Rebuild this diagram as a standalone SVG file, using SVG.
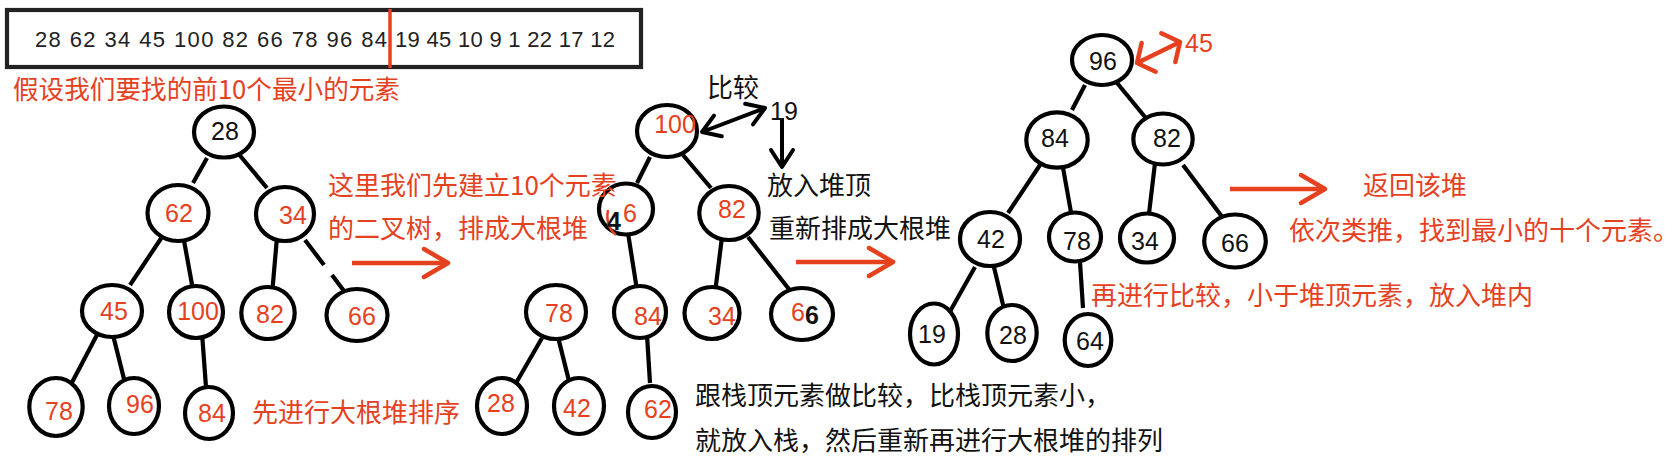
<svg xmlns="http://www.w3.org/2000/svg" width="1676" height="470" viewBox="0 0 1676 470">
<style>
.n{fill:#fff;stroke:#000;stroke-width:4.2}
.t{font-family:"Liberation Sans",Arial,Helvetica,sans-serif;font-size:25px;text-anchor:middle}
.r{fill:#E6411E}
.k{fill:#111}
.cj{font-family:"Noto Sans CJK SC","Noto Sans",sans-serif;font-size:26px}
.e{stroke:#000;stroke-width:4.2;fill:none}
.ra{stroke:#E6411E;stroke-width:4.5;fill:none}
</style>
<defs>
<marker id="hr" markerUnits="userSpaceOnUse" viewBox="-32 -20 36 40" refX="0" refY="0" markerWidth="36" markerHeight="40" orient="auto-start-reverse" overflow="visible">
<path d="M-24,-14 L0,0 L-24,14" fill="none" stroke="#E6411E" stroke-width="4.5" stroke-linecap="round" stroke-linejoin="round"/>
</marker>
<marker id="hrs" markerUnits="userSpaceOnUse" viewBox="-20 -22 24 44" refX="0" refY="0" markerWidth="24" markerHeight="44" orient="auto-start-reverse" overflow="visible">
<path d="M-13,-16 L0,0 L-13,16" fill="none" stroke="#E6411E" stroke-width="4.5" stroke-linecap="round" stroke-linejoin="round"/>
</marker>
<marker id="hk" markerUnits="userSpaceOnUse" viewBox="-24 -16 28 32" refX="0" refY="0" markerWidth="28" markerHeight="32" orient="auto-start-reverse" overflow="visible">
<path d="M-17,-11 L0,0 L-17,11" fill="none" stroke="#000" stroke-width="4" stroke-linecap="round" stroke-linejoin="round"/>
</marker>
</defs>
<rect width="1676" height="470" fill="#fff"/>

<g id="array">
<rect x="7" y="10" width="634" height="57" fill="none" stroke="#222" stroke-width="4.2"/>
<line x1="390" y1="9" x2="390" y2="68" stroke="#E6411E" stroke-width="3.5"/>
<text x="35" y="47" font-family="'Liberation Sans',Arial,sans-serif" font-size="22" fill="#222" textLength="352" lengthAdjust="spacing">28 62 34 45 100 82 66 78 96 84</text>
<text x="395" y="47" font-family="'Liberation Sans',Arial,sans-serif" font-size="22" fill="#222" textLength="220" lengthAdjust="spacing">19 45 10 9 1 22 17 12</text>
</g>
<text class="cj r" x="13" y="99" font-size="27.5" textLength="387" lengthAdjust="spacingAndGlyphs">假设我们要找的前10个最小的元素</text>

<g id="connectors">
<!-- tree 1 -->
<path class="e" d="M207,158 L193,183"/>
<path class="e" d="M237,152 L267,188"/>
<path class="e" d="M162,237 L130,285"/>
<path class="e" d="M183,235 L193,290"/>
<path class="e" d="M277,237 L272,295"/>
<path class="e" d="M305,240 L324,265 M332,275 L347,295"/>
<path class="e" d="M98,333 L68,390"/>
<path class="e" d="M113,335 L126,387"/>
<path class="e" d="M202,333 L206,387"/>
<!-- tree 2 -->
<path class="e" d="M650,157 L637,183"/>
<path class="e" d="M683,155 L711,188"/>
<path class="e" d="M628,233 L637,290"/>
<path class="e" d="M722,237 L715,293"/>
<path class="e" d="M748,237 L792,293"/>
<path class="e" d="M542,338 L512,390"/>
<path class="e" d="M558,337 L570,385"/>
<path class="e" d="M647,335 L650,383"/>
<!-- tree 3 -->
<path class="e" d="M1085,85 L1072,110"/>
<path class="e" d="M1113,78 L1145,117"/>
<path class="e" d="M1042,162 L1008,213"/>
<path class="e" d="M1062,162 L1072,218"/>
<path class="e" d="M1155,163 L1148,222"/>
<path class="e" d="M1183,165 L1223,218"/>
<path class="e" d="M975,267 L948,315"/>
<path class="e" d="M993,263 L1005,313"/>
<path class="e" d="M1080,262 L1083,308"/>
<!-- arrows -->
<path class="ra" d="M352,263 L448,263" marker-end="url(#hr)"/>
<path class="ra" d="M796,262 L893,262" marker-end="url(#hr)"/>
<path class="ra" d="M1230,189 L1325,189" marker-end="url(#hr)"/>
<path d="M765,108 L702,132" stroke="#000" stroke-width="4" fill="none" marker-start="url(#hk)" marker-end="url(#hk)"/>
<path d="M782,118 L782,167" stroke="#000" stroke-width="4" fill="none" marker-end="url(#hk)"/>
<path d="M1180,42 L1137,63" stroke="#E6411E" stroke-width="4.5" fill="none" marker-start="url(#hrs)" marker-end="url(#hrs)"/>
</g>

<!-- tree 1 nodes -->
<g id="t1-28"><ellipse class="n" cx="224" cy="132" rx="30" ry="25.5"/><text class="t k" x="225" y="140">28</text></g>
<g id="t1-62"><ellipse class="n" cx="178" cy="213" rx="30.5" ry="28"/><text class="t r" x="179" y="222">62</text></g>
<g id="t1-34"><ellipse class="n" cx="285" cy="214" rx="29" ry="27"/><text class="t r" x="293" y="224">34</text></g>
<g id="t1-45"><ellipse class="n" cx="112" cy="311" rx="30" ry="26"/><text class="t r" x="114" y="320">45</text></g>
<g id="t1-100"><ellipse class="n" cx="196" cy="312" rx="27" ry="26"/><text class="t r" x="198" y="320">100</text></g>
<g id="t1-82"><ellipse class="n" cx="268" cy="313" rx="26.7" ry="26"/><text class="t r" x="270" y="323">82</text></g>
<g id="t1-66"><ellipse class="n" cx="357" cy="315" rx="30.5" ry="26"/><text class="t r" x="362" y="325">66</text></g>
<g id="t1-78"><ellipse class="n" cx="56" cy="407" rx="26.7" ry="29"/><text class="t r" x="59" y="420">78</text></g>
<g id="t1-96"><ellipse class="n" cx="134" cy="406" rx="25" ry="28"/><text class="t r" x="140" y="413">96</text></g>
<g id="t1-84"><ellipse class="n" cx="209" cy="413" rx="24" ry="26"/><text class="t r" x="212" y="422">84</text></g>

<!-- tree 2 nodes -->
<g id="t2-100"><ellipse class="n" cx="667" cy="131" rx="30" ry="26"/><text class="t r" x="675" y="133">100</text></g>
<g id="t2-46"><ellipse class="n" cx="626" cy="209" rx="27" ry="25.5"/><path d="M608,210 Q605,226 616,235" fill="none" stroke="#E6411E" stroke-width="2.5"/><text class="t r" x="630" y="222">6</text><text class="t k" x="614" y="230" font-size="34" font-weight="bold">4</text></g>
<g id="t2-82"><ellipse class="n" cx="729" cy="213" rx="29.7" ry="27"/><text class="t r" x="732" y="218">82</text></g>
<g id="t2-78"><ellipse class="n" cx="556" cy="312" rx="30" ry="27"/><text class="t r" x="559" y="322">78</text></g>
<g id="t2-84"><ellipse class="n" cx="640" cy="312" rx="26" ry="26"/><text class="t r" x="648" y="325">84</text></g>
<g id="t2-34"><ellipse class="n" cx="712" cy="313" rx="27.5" ry="26"/><text class="t r" x="722" y="325">34</text></g>
<g id="t2-66"><ellipse class="n" cx="802" cy="314" rx="31" ry="26"/><text class="t r" x="798" y="321">6</text><text class="t k" x="812" y="324" font-weight="bold" font-size="25">6</text></g>
<g id="t2-28"><ellipse class="n" cx="502" cy="406" rx="25" ry="28"/><text class="t r" x="501" y="412">28</text></g>
<g id="t2-42"><ellipse class="n" cx="579" cy="406" rx="25" ry="28"/><text class="t r" x="577" y="417">42</text></g>
<g id="t2-62"><ellipse class="n" cx="652" cy="412" rx="24" ry="26"/><text class="t r" x="658" y="418">62</text></g>
<g id="in-19"><text class="t k" x="770" y="120" style="text-anchor:start" font-size="24">19</text></g>

<!-- tree 3 nodes -->
<g id="t3-96"><ellipse class="n" cx="1102" cy="60" rx="30" ry="25"/><text class="t k" x="1103" y="70">96</text></g>
<g id="t3-84"><ellipse class="n" cx="1057" cy="140" rx="30.7" ry="27.7"/><text class="t k" x="1055" y="147">84</text></g>
<g id="t3-82"><ellipse class="n" cx="1163" cy="139" rx="29.7" ry="25.5"/><text class="t k" x="1167" y="147">82</text></g>
<g id="t3-42"><ellipse class="n" cx="990" cy="239" rx="30" ry="27"/><text class="t k" x="991" y="248">42</text></g>
<g id="t3-78"><ellipse class="n" cx="1075" cy="237" rx="26" ry="24.5"/><text class="t k" x="1077" y="250">78</text></g>
<g id="t3-34"><ellipse class="n" cx="1147" cy="238" rx="27" ry="24.5"/><text class="t k" x="1145" y="250">34</text></g>
<g id="t3-66"><ellipse class="n" cx="1235" cy="241" rx="30.8" ry="26.5"/><text class="t k" x="1235" y="252">66</text></g>
<g id="t3-19"><ellipse class="n" cx="934" cy="334" rx="24" ry="30.5"/><text class="t k" x="932" y="343">19</text></g>
<g id="t3-28"><ellipse class="n" cx="1012" cy="333" rx="24.7" ry="28"/><text class="t k" x="1013" y="344">28</text></g>
<g id="t3-64"><ellipse class="n" cx="1088" cy="340" rx="23.3" ry="26"/><text class="t k" x="1090" y="350">64</text></g>
<g id="in-45"><text class="t r" x="1185" y="52" style="text-anchor:start" font-size="26">45</text></g>

<!-- labels -->
<text class="cj r" x="328" y="195">这里我们先建立10个元素</text>
<text class="cj r" x="328" y="238">的二叉树，排成大根堆</text>
<text class="cj r" x="252" y="422">先进行大根堆排序</text>
<text class="cj k" x="707" y="97" font-size="25">比较</text>
<text class="cj k" x="767" y="195" font-size="25.5">放入堆顶</text>
<text class="cj k" x="769" y="238">重新排成大根堆</text>
<text class="cj k" x="695" y="405">跟栈顶元素做比较，比栈顶元素小，</text>
<text class="cj k" x="695" y="450">就放入栈，然后重新再进行大根堆的排列</text>
<text class="cj r" x="1091" y="305">再进行比较，小于堆顶元素，放入堆内</text>
<text class="cj r" x="1363" y="195">返回该堆</text>
<text class="cj r" x="1289" y="240" font-size="24.5">依次类推，找到最小的十个元素。</text>
</svg>
